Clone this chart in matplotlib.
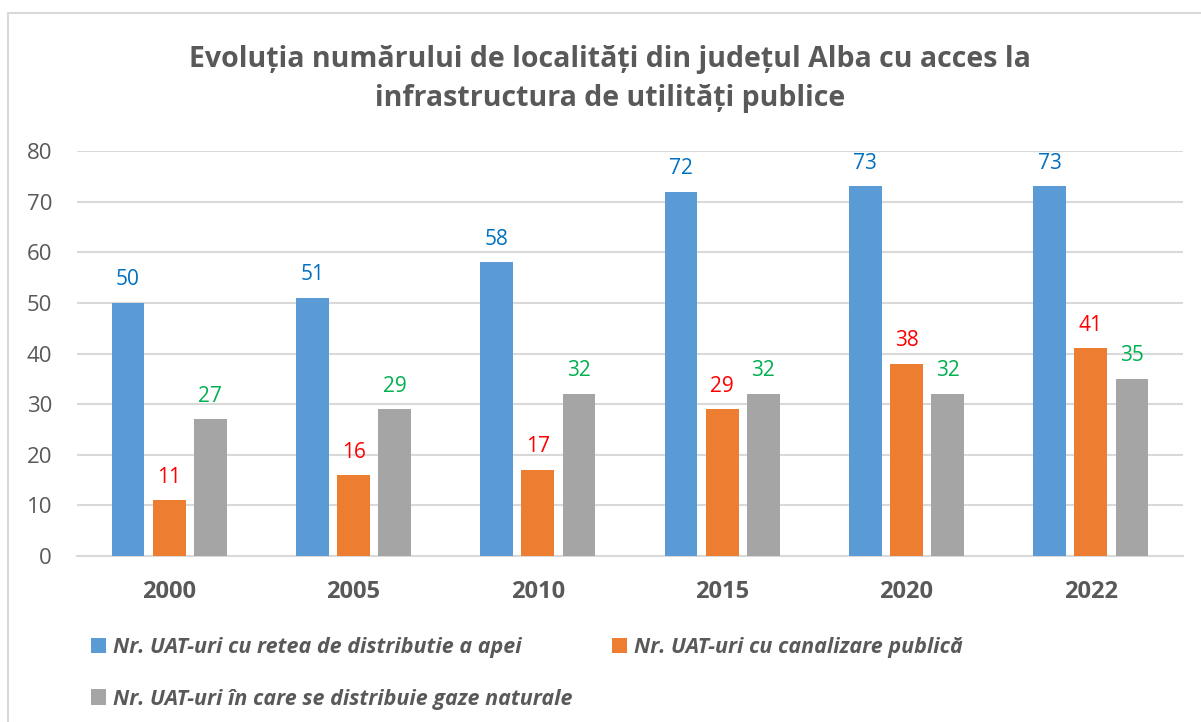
import matplotlib
matplotlib.use("Agg")
import matplotlib.pyplot as plt
from matplotlib.patches import Rectangle, Patch

years = ["2000", "2005", "2010", "2015", "2020", "2022"]
apa = [50, 51, 58, 72, 73, 73]
canal = [11, 16, 17, 29, 38, 41]
gaze = [27, 29, 32, 32, 32, 35]
series_names = ["Nr. UAT-uri cu retea de distributie a apei",
                "Nr. UAT-uri cu canalizare publică",
                "Nr. UAT-uri în care se distribuie gaze naturale"]
title = "Evoluția numărului de localități din județul Alba cu acces la\ninfrastructura de utilități publice"

bar_colors = ["#5B9BD5", "#ED7D31", "#A5A5A5"]
label_colors = ["#0070C0", "#FF0000", "#00B050"]
txt = "#595959"
FONT = "Open Sans"

fig = plt.figure(figsize=(12.01, 7.22), dpi=100)
fig.patches.append(Rectangle((8/1201, -0.1), 1.2, (722-13)/722 + 0.1,
                             transform=fig.transFigure, fill=False,
                             edgecolor="#D9D9D9", linewidth=1.5, zorder=0))
ax = fig.add_axes([77/1201, 1-556/722, 1106/1201, 405/722])

x = list(range(len(years)))
width = 0.178
offsets = [-0.223, 0.0, 0.223]
handles = []
for vals, off, c, lc, name in zip([apa, canal, gaze], offsets, bar_colors, label_colors, series_names):
    bars = ax.bar([i + off for i in x], vals, width=width, color=c, zorder=3)
    ax.bar_label(bars, labels=[str(v) for v in vals], padding=9, color=lc,
                 fontsize=15, family=FONT)
    handles.append(Patch(facecolor=c, label=name))

ax.set_xlim(-0.5, len(years) - 0.5)
ax.set_ylim(0, 80)
ax.set_yticks(range(0, 81, 10))
ax.grid(axis="y", color="#D9D9D9", linewidth=1.5, zorder=0)
ax.set_axisbelow(True)
for s in ["top", "right", "left"]:
    ax.spines[s].set_visible(False)
ax.spines["bottom"].set_color("#D9D9D9")
ax.spines["bottom"].set_linewidth(1.5)
ax.set_xticks(x)
ax.set_xticklabels(years, fontsize=17, fontweight="bold", color=txt, family=FONT)
ax.tick_params(axis="x", length=0, pad=17)
ax.tick_params(axis="y", length=0, pad=18, labelsize=16, labelcolor=txt)
for t in ax.get_yticklabels():
    t.set_family(FONT)

fig.text(0.508, 1-79/722, title, ha="center", va="center", fontsize=20.5,
         fontweight="bold", color=txt, family=FONT, linespacing=1.45)

leg = fig.legend(handles=[handles[0], handles[2], handles[1]], ncol=2,
                 loc="upper left", bbox_to_anchor=(72/1201, 1-618/722),
                 frameon=False, handlelength=0.7, handleheight=0.7,
                 handletextpad=0.3, columnspacing=1.85, labelspacing=1.4,
                 prop={"family": FONT, "style": "italic", "weight": "bold", "size": 15.5})
for t in leg.get_texts():
    t.set_color(txt)

fig.savefig("out.png", dpi=100)
